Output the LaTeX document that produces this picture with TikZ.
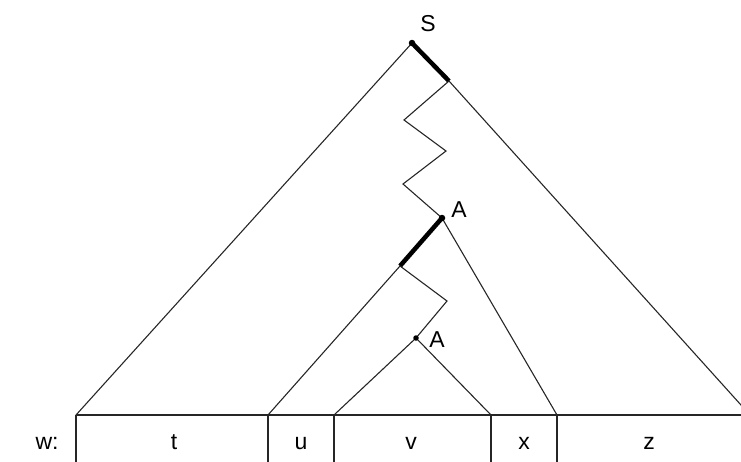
\documentclass[tikz,border=0pt]{standalone}
\usepackage{fontspec}
\setmainfont{Liberation Sans}
\begin{document}
\begin{tikzpicture}[x=1pt,y=-1pt,
  thin line/.style={line width=1.1pt,color=black!85},
  thick line/.style={line width=4.5pt,color=black},
  lbl/.style={inner sep=0pt,anchor=base,font=\fontsize{23}{27}\selectfont},
  dotmark/.style={circle,fill=black,inner sep=0pt,minimum size=6.5pt}]
\useasboundingbox (0,0) rectangle (741,461);
\clip (0,0) rectangle (741,461);
% key points
\coordinate (S) at (412,43);
\coordinate (s1) at (449,81);
\coordinate (z1) at (404,120);
\coordinate (z2) at (446,151);
\coordinate (z3) at (403,184);
\coordinate (A1) at (442,218);
\coordinate (m1) at (400,266);
\coordinate (m2) at (447,301);
\coordinate (A2) at (416,338);
\coordinate (b0) at (76,415);
\coordinate (b1) at (268,415);
\coordinate (b2) at (334,415);
\coordinate (b3) at (491,415);
\coordinate (b4) at (557,415);
\coordinate (b5) at (750,415);
\coordinate (bE) at (760,415);
\foreach \p/\n in {b0/c0,b1/c1,b2/c2,b3/c3,b4/c4}{
  \coordinate (\n) at ([yshift=-60pt]\p);
}
% baseline strip
\draw[thin line] (b0) -- (bE);
\foreach \p/\n in {b0/c0,b1/c1,b2/c2,b3/c3,b4/c4}{
  \draw[thin line] (\p) -- (\n);
}
% S triangle
\draw[thin line] (S) -- (b0);
\draw[thin line] (s1) -- (b5);
\draw[thick line] (S) -- (s1);
% zigzag path
\draw[thin line,line join=miter] (s1) -- (z1) -- (z2) -- (z3) -- (A1);
% upper A
\draw[thin line] (A1) -- (b4);
\draw[thin line] (m1) -- (b1);
\draw[thick line] (A1) -- (m1);
\draw[thin line,line join=miter] (m1) -- (m2) -- (A2);
% lower A
\draw[thin line] (A2) -- (b2);
\draw[thin line] (A2) -- (b3);
% dots
\node[dotmark] (dS) at (S) {};
\node[dotmark] (dA1) at (A1) {};
\node[dotmark,minimum size=5.5pt] (dA2) at (A2) {};
% labels
\node[lbl] (lS) at (428,31) {S};
\node[lbl] (lA1) at (459,217) {A};
\node[lbl] (lA2) at (437,347) {A};
\node[lbl] (lw) at (47,449) {w:};
\node[lbl] (lt) at (174,449) {t};
\node[lbl] (lu) at (301,449) {u};
\node[lbl] (lv) at (411,449) {v};
\node[lbl] (lx) at (524,449) {x};
\node[lbl] (lz) at (649,449) {z};
\end{tikzpicture}
\end{document}
